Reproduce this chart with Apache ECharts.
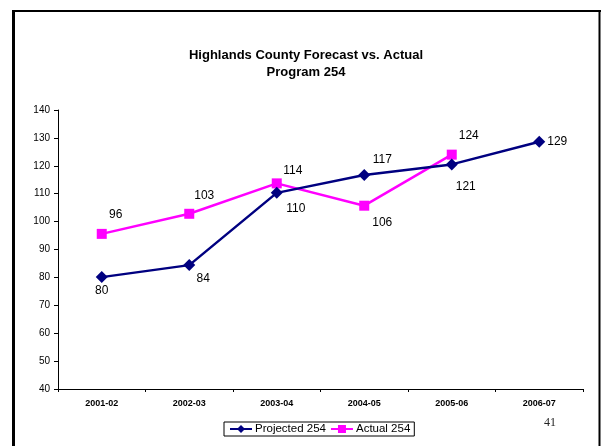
<!DOCTYPE html>
<html>
<head>
<meta charset="utf-8">
<script src="https://cdn.jsdelivr.net/npm/echarts@6/dist/echarts.min.js"></script>
<style>
  html, body { margin: 0; padding: 0; background: #fff; }
  #chart { width: 602px; height: 446px; }
</style>
</head>
<body>
<div id="chart"></div>
<script>
// fiscal years on the x axis
var years = ['2001-02', '2002-03', '2003-04', '2004-05', '2005-06', '2006-07']
// (labels show them rounded)
var projected = [80.1, 84.4, 110.3, 116.7, 120.5, 128.6]
var actual = [95.6, 102.8, 113.7, 105.7, 124.0]

// where each value label sits relative to its point
var projOffsets = [[0, 14], [14, 14], [19, 16], [18, -15], [14, 22], [18, 0]]
var actOffsets = [[14, -19], [15, -18], [16, -13], [18, 17], [17, -19]]

var font = 'Liberation Sans, Arial, sans-serif'

function withLabels (vals, offs) {
  return vals.map(function (v, i) {
    return { value: v, label: { offset: offs[i] } }
  })
}

var chart = echarts.init(document.getElementById('chart'))

var option = {
  backgroundColor: '#fff',
  animation: false,
  title: {
    text: 'Highlands County Forecast vs. Actual\nProgram 254',
    left: 306,
    textAlign: 'center',
    top: 47,
    padding: 0,
    textStyle: {
      fontFamily: font,
      fontSize: 13,
      fontWeight: 'bold',
      color: '#000',
      lineHeight: 17
    }
  },
  grid: {
    left: 58,
    right: 19,
    top: 110,
    bottom: 57
  },
  legend: {
    left: 224,
    top: 422,
    padding: [1, 4, 1, 5],
    itemGap: 4,
    itemWidth: 22,
    itemHeight: 10,
    borderColor: '#000',
    borderWidth: 1,
    borderRadius: 0,
    textStyle: { fontFamily: font, fontSize: 11.5, color: '#000', padding: [0, 0, 0, -2] },
    data: ['Projected 254', 'Actual 254']
  },
  xAxis: {
    type: 'category',
    data: years,
    boundaryGap: true,
    axisLine: { lineStyle: { color: '#000', width: 1 } },
    axisTick: { show: true, length: 3, lineStyle: { color: '#000' } },
    axisLabel: {
      margin: 10,
      fontFamily: font,
      fontSize: 9,
      fontWeight: 'bold',
      color: '#000'
    },
    splitLine: { show: false }
  },
  yAxis: {
    type: 'value',
    min: 40,
    max: 140,
    interval: 10,
    axisLine: { show: true, lineStyle: { color: '#000', width: 1 } },
    axisTick: { show: true, length: 4, lineStyle: { color: '#000' } },
    axisLabel: {
      margin: 8,
      fontFamily: font,
      fontSize: 10,
      color: '#000'
    },
    splitLine: { show: false }
  },
  series: [
    {
      name: 'Projected 254',
      type: 'line',
      data: withLabels(projected, projOffsets),
      symbol: 'diamond',
      symbolSize: 12,
      itemStyle: { color: '#000080' },
      lineStyle: { color: '#000080', width: 2.5 },
      label: {
        show: true,
        position: 'inside',
        fontFamily: font,
        fontSize: 12,
        color: '#000',
        formatter: function (p) { return Math.round(p.value) }
      },
      z: 3
    },
    {
      name: 'Actual 254',
      type: 'line',
      data: withLabels(actual, actOffsets),
      symbol: 'rect',
      symbolSize: 10,
      itemStyle: { color: '#FF00FF' },
      lineStyle: { color: '#FF00FF', width: 2.5 },
      label: {
        show: true,
        position: 'inside',
        fontFamily: font,
        fontSize: 12,
        color: '#000',
        formatter: function (p) { return Math.round(p.value) }
      },
      z: 2
    }
  ],
  graphic: [
    // slide frame
    { type: 'line', shape: { x1: 13.5, y1: 10, x2: 13.5, y2: 446 }, style: { stroke: '#000', lineWidth: 3 } },
    { type: 'line', shape: { x1: 12, y1: 11, x2: 601, y2: 11 }, style: { stroke: '#000', lineWidth: 2 } },
    { type: 'line', shape: { x1: 599.5, y1: 10, x2: 599.5, y2: 446 }, style: { stroke: '#000', lineWidth: 2 } },
    // page number
    {
      type: 'text',
      x: 550,
      y: 423,
      style: {
        text: '41',
        fontFamily: 'Liberation Serif, Times New Roman, serif',
        fontSize: 12,
        fill: '#222',
        align: 'center',
        verticalAlign: 'middle'
      }
    }
  ]
}

chart.setOption(option)
</script>
</body>
</html>
